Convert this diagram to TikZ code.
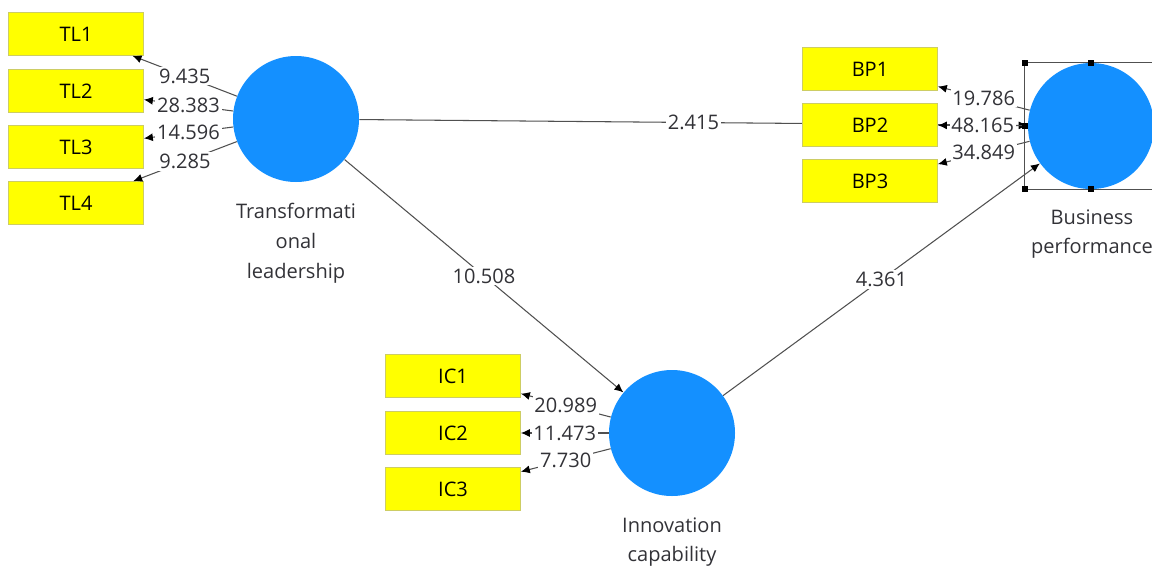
\documentclass[tikz,border=0pt]{standalone}
\usepackage{fontspec}
\setmainfont{Open Sans}
\usetikzlibrary{arrows.meta,backgrounds}
\definecolor{lvblue}{RGB}{20,144,255}
\definecolor{mvyellow}{RGB}{255,255,0}
\definecolor{mvborder}{RGB}{205,205,100}
\definecolor{pathgray}{RGB}{80,80,80}
\definecolor{txtgray}{RGB}{50,50,55}
\begin{document}
\begin{tikzpicture}[
  every node/.style={font=\fontsize{11.4}{17}\selectfont, text=txtgray},
  latent/.style={circle, fill=lvblue, minimum size=2.52cm, inner sep=0pt},
  indicator/.style={rectangle, draw=mvborder, fill=mvyellow, minimum width=2.7cm, minimum height=0.86cm, inner sep=0pt, text=black},
  caption/.style={align=center},
  path/.style={draw=pathgray, line width=0.6pt, -{Latex[length=1.8mm,width=1.6mm,color=black]}},
  coef/.style={fill=white, inner sep=1pt},
  handle/.style={fill=black, minimum size=0.12cm, inner sep=0pt}
]
\useasboundingbox (0,0) rectangle (23.04,-11.34);
\node[latent] (tl) at (5.92,-2.38) {};
\node[latent] (ic) at (13.44,-8.66) {};
\node[latent] (bp) at (21.82,-2.52) {};
\node[caption] at (5.92,-4.86) {Transformati\\onal\\leadership};
\node[caption] at (13.44,-10.84) {Innovation\\capability};
\node[caption] at (21.84,-4.68) {Business\\performance};
\node[indicator] (tl1) at (1.52,-0.68) {TL1};
\node[indicator] (tl2) at (1.52,-1.82) {TL2};
\node[indicator] (tl3) at (1.52,-2.94) {TL3};
\node[indicator] (tl4) at (1.52,-4.06) {TL4};
\node[indicator] (ic1) at (9.06,-7.52) {IC1};
\node[indicator] (ic2) at (9.06,-8.66) {IC2};
\node[indicator] (ic3) at (9.06,-9.78) {IC3};
\node[indicator] (bp1) at (17.40,-1.38) {BP1};
\node[indicator] (bp2) at (17.40,-2.50) {BP2};
\node[indicator] (bp3) at (17.40,-3.62) {BP3};
\begin{scope}[on background layer]
  \draw[path] (tl) -- node[coef] {2.415} (bp);
\end{scope}
\draw[path] (tl) -- node[coef] {10.508} (ic);
\draw[path] (ic) -- node[coef] {4.361} (bp);
\draw[path] (tl) -- node[coef] {9.435} (tl1);
\draw[path] (tl) -- node[coef] {28.383} (tl2);
\draw[path] (tl) -- node[coef] {14.596} (tl3);
\draw[path] (tl) -- node[coef] {9.285} (tl4);
\draw[path] (ic) -- node[coef] {20.989} (ic1);
\draw[path] (ic) -- node[coef] {11.473} (ic2);
\draw[path] (ic) -- node[coef] {7.730} (ic3);
\draw[path] (bp) -- node[coef] {19.786} (bp1);
\draw[path] (bp) -- node[coef] {48.165} (bp2);
\draw[path] (bp) -- node[coef] {34.849} (bp3);
\draw[pathgray, line width=0.6pt] ([xshift=-0.06cm]bp.west |- bp.north) rectangle ([xshift=0.06cm]bp.east |- bp.south);
\node[handle] at ([xshift=-0.06cm]bp.west |- bp.north) {};
\node[handle] at (bp.north) {};
\node[handle] at ([xshift=-0.06cm]bp.west) {};
\node[handle] at ([xshift=-0.06cm]bp.west |- bp.south) {};
\node[handle] at (bp.south) {};
\end{tikzpicture}
\end{document}
